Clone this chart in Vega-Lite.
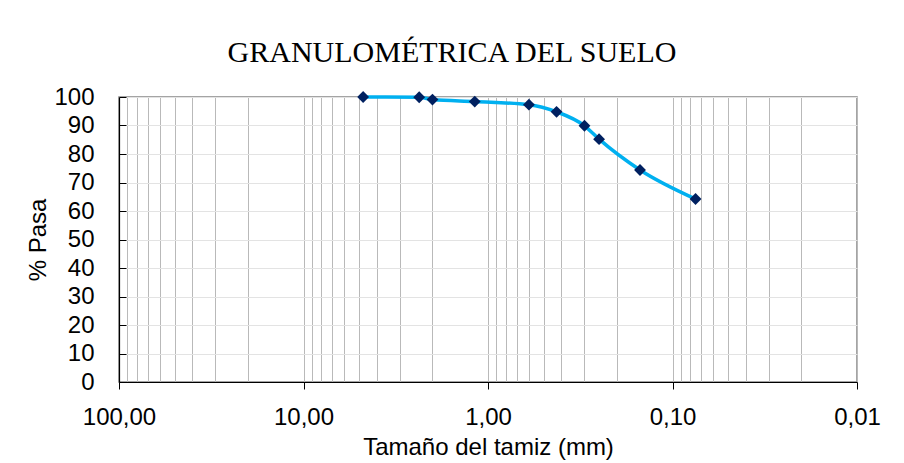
{
  "$schema": "https://vega.github.io/schema/vega-lite/v6.json",
  "width": 738,
  "height": 285,
  "autosize": "none",
  "padding": {"left": 119, "top": 97, "right": 47, "bottom": 81},
  "background": "white",
  "title": {
    "text": "GRANULOMÉTRICA DEL SUELO",
    "font": "Liberation Serif",
    "fontSize": 30,
    "fontWeight": "normal",
    "color": "black",
    "anchor": "middle",
    "baseline": "alphabetic",
    "dx": -36,
    "offset": -7
  },
  "config": {
    "view": {"stroke": "#868686", "strokeWidth": 1.5},
    "axis": {
      "labelFont": "Liberation Sans",
      "labelFontSize": 24,
      "labelColor": "black",
      "titleFont": "Liberation Sans",
      "titleFontSize": 24,
      "titleFontWeight": "normal",
      "titleColor": "black",
      "domainColor": "black",
      "domainWidth": 1.2
    }
  },
  "data": {
    "values": [
      {"size": 4.75, "pasa": 100.0},
      {"size": 2.36, "pasa": 99.9},
      {"size": 2.0, "pasa": 99.1},
      {"size": 1.18, "pasa": 98.4},
      {"size": 0.6, "pasa": 97.3},
      {"size": 0.425, "pasa": 94.8},
      {"size": 0.3, "pasa": 89.9},
      {"size": 0.25, "pasa": 85.2},
      {"size": 0.15, "pasa": 74.4},
      {"size": 0.075, "pasa": 64.2}
    ]
  },
  "encoding": {
    "x": {
      "field": "size",
      "type": "quantitative",
      "scale": {"type": "log", "domain": [0.01, 100], "reverse": true, "nice": false},
      "axis": {
        "title": "Tamaño del tamiz (mm)",
        "values": [0.01, 0.02, 0.03, 0.04, 0.05, 0.06, 0.07, 0.08, 0.09,
                   0.1, 0.2, 0.3, 0.4, 0.5, 0.6, 0.7, 0.8, 0.9,
                   1, 2, 3, 4, 5, 6, 7, 8, 9,
                   10, 20, 30, 40, 50, 60, 70, 80, 90, 100],
        "labelExpr": "abs(log(datum.value)/LN10 - round(log(datum.value)/LN10)) < 0.001 ? replace(format(datum.value, '.2f'), '.', ',') : ''",
        "labelOverlap": false,
        "labelFlush": false,
        "labelBound": false,
        "labelPadding": 16,
        "titlePadding": 6,
        "grid": true,
        "gridColor": "#b9b9b9",
        "gridWidth": 1,
        "tickSize": 7,
        "tickColor": {
          "condition": {"test": "abs(log(datum.value)/LN10 - round(log(datum.value)/LN10)) < 0.001", "value": "black"},
          "value": "transparent"
        }
      }
    },
    "y": {
      "field": "pasa",
      "type": "quantitative",
      "scale": {"domain": [0, 100], "nice": false},
      "axis": {
        "title": "% Pasa",
        "values": [0, 10, 20, 30, 40, 50, 60, 70, 80, 90, 100],
        "grid": true,
        "gridColor": "#e3e3e3",
        "gridWidth": 1,
        "tickColor": "black",
        "tickSize": -7,
        "labelPadding": 32,
        "titlePadding": 3
      }
    }
  },
  "layer": [
    {
      "mark": {"type": "line", "interpolate": "monotone", "color": "#00b0f0", "strokeWidth": 3.5}
    },
    {
      "mark": {"type": "point", "shape": "diamond", "filled": true, "color": "#002060", "size": 140, "opacity": 1}
    }
  ]
}
